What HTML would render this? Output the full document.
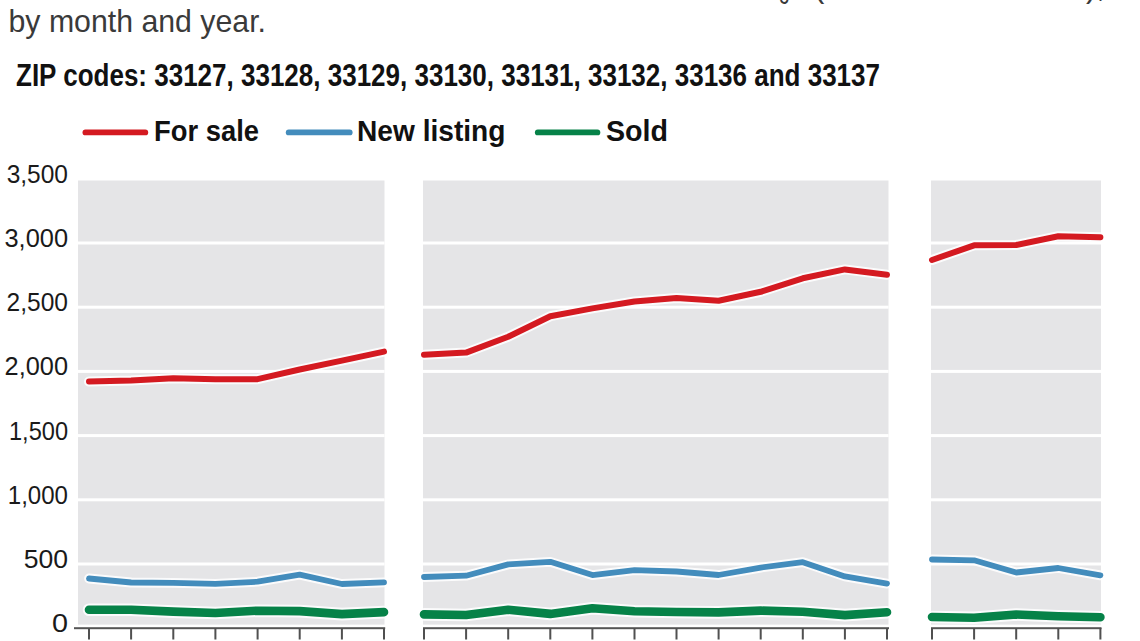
<!DOCTYPE html>
<html><head><meta charset="utf-8"><title>ZIP codes chart</title>
<style>
html,body{margin:0;padding:0;background:#fff;width:1140px;height:641px;overflow:hidden}
svg{position:absolute;left:0;top:0;display:block}
</style></head><body>
<svg width="1140" height="641" viewBox="0 0 1140 641">
<rect x="78" y="180.5" width="306.5" height="444.1" fill="#e5e5e7"/>
<rect x="78" y="241.5" width="306.5" height="3" fill="#fff"/>
<rect x="78" y="305.7" width="306.5" height="3" fill="#fff"/>
<rect x="78" y="369.9" width="306.5" height="3" fill="#fff"/>
<rect x="78" y="434.1" width="306.5" height="3" fill="#fff"/>
<rect x="78" y="498.3" width="306.5" height="3" fill="#fff"/>
<rect x="78" y="562.5" width="306.5" height="3" fill="#fff"/>
<rect x="423" y="180.5" width="465.5" height="444.1" fill="#e5e5e7"/>
<rect x="423" y="241.5" width="465.5" height="3" fill="#fff"/>
<rect x="423" y="305.7" width="465.5" height="3" fill="#fff"/>
<rect x="423" y="369.9" width="465.5" height="3" fill="#fff"/>
<rect x="423" y="434.1" width="465.5" height="3" fill="#fff"/>
<rect x="423" y="498.3" width="465.5" height="3" fill="#fff"/>
<rect x="423" y="562.5" width="465.5" height="3" fill="#fff"/>
<rect x="931" y="180.5" width="170.0" height="444.1" fill="#e5e5e7"/>
<rect x="931" y="241.5" width="170.0" height="3" fill="#fff"/>
<rect x="931" y="305.7" width="170.0" height="3" fill="#fff"/>
<rect x="931" y="369.9" width="170.0" height="3" fill="#fff"/>
<rect x="931" y="434.1" width="170.0" height="3" fill="#fff"/>
<rect x="931" y="498.3" width="170.0" height="3" fill="#fff"/>
<rect x="931" y="562.5" width="170.0" height="3" fill="#fff"/>
<rect x="74" y="627.2" width="311.2" height="2" fill="#555555"/>
<rect x="423" y="627.2" width="466.0" height="2" fill="#555555"/>
<rect x="931" y="627.2" width="170.5" height="2" fill="#555555"/>
<rect x="88.0" y="628" width="2" height="11.5" fill="#505050"/>
<rect x="130.1" y="628" width="2" height="11.5" fill="#505050"/>
<rect x="172.3" y="628" width="2" height="11.5" fill="#505050"/>
<rect x="214.4" y="628" width="2" height="11.5" fill="#505050"/>
<rect x="256.6" y="628" width="2" height="11.5" fill="#505050"/>
<rect x="298.7" y="628" width="2" height="11.5" fill="#505050"/>
<rect x="340.9" y="628" width="2" height="11.5" fill="#505050"/>
<rect x="383.0" y="628" width="2" height="11.5" fill="#505050"/>
<rect x="423.0" y="628" width="2" height="11.5" fill="#505050"/>
<rect x="465.1" y="628" width="2" height="11.5" fill="#505050"/>
<rect x="507.2" y="628" width="2" height="11.5" fill="#505050"/>
<rect x="549.3" y="628" width="2" height="11.5" fill="#505050"/>
<rect x="591.4" y="628" width="2" height="11.5" fill="#505050"/>
<rect x="633.5" y="628" width="2" height="11.5" fill="#505050"/>
<rect x="675.5" y="628" width="2" height="11.5" fill="#505050"/>
<rect x="717.6" y="628" width="2" height="11.5" fill="#505050"/>
<rect x="759.7" y="628" width="2" height="11.5" fill="#505050"/>
<rect x="801.8" y="628" width="2" height="11.5" fill="#505050"/>
<rect x="843.9" y="628" width="2" height="11.5" fill="#505050"/>
<rect x="886.0" y="628" width="2" height="11.5" fill="#505050"/>
<rect x="931.0" y="628" width="2" height="11.5" fill="#505050"/>
<rect x="973.1" y="628" width="2" height="11.5" fill="#505050"/>
<rect x="1015.2" y="628" width="2" height="11.5" fill="#505050"/>
<rect x="1057.3" y="628" width="2" height="11.5" fill="#505050"/>
<rect x="1099.4" y="628" width="2" height="11.5" fill="#505050"/>
<polyline points="89.0,609.7 131.1,609.7 173.3,611.6 215.4,613.0 257.6,610.7 299.7,611.1 341.9,614.1 384.0,612.1" fill="none" stroke="#fff" stroke-opacity="0.85" stroke-width="12.6" stroke-linecap="round" stroke-linejoin="round"/>
<polyline points="89.0,609.7 131.1,609.7 173.3,611.6 215.4,613.0 257.6,610.7 299.7,611.1 341.9,614.1 384.0,612.1" fill="none" stroke="#068248" stroke-width="8.6" stroke-linecap="round" stroke-linejoin="round"/>
<polyline points="89.0,578.5 131.1,582.5 173.3,582.9 215.4,583.9 257.6,581.7 299.7,574.7 341.9,584.0 384.0,582.3" fill="none" stroke="#fff" stroke-opacity="0.85" stroke-width="9.8" stroke-linecap="round" stroke-linejoin="round"/>
<polyline points="89.0,578.5 131.1,582.5 173.3,582.9 215.4,583.9 257.6,581.7 299.7,574.7 341.9,584.0 384.0,582.3" fill="none" stroke="#438cbc" stroke-width="5.8" stroke-linecap="round" stroke-linejoin="round"/>
<polyline points="89.0,381.5 131.1,380.4 173.3,378.2 215.4,379.2 257.6,379.2 299.7,369.5 341.9,360.6 384.0,351.6" fill="none" stroke="#fff" stroke-opacity="0.85" stroke-width="10.0" stroke-linecap="round" stroke-linejoin="round"/>
<polyline points="89.0,381.5 131.1,380.4 173.3,378.2 215.4,379.2 257.6,379.2 299.7,369.5 341.9,360.6 384.0,351.6" fill="none" stroke="#d41a21" stroke-width="6.0" stroke-linecap="round" stroke-linejoin="round"/>
<polyline points="424.0,614.4 466.1,615.0 508.2,609.7 550.3,613.9 592.4,608.3 634.5,611.2 676.5,612.0 718.6,612.4 760.7,610.6 802.8,611.7 844.9,615.1 887.0,612.2" fill="none" stroke="#fff" stroke-opacity="0.85" stroke-width="12.6" stroke-linecap="round" stroke-linejoin="round"/>
<polyline points="424.0,614.4 466.1,615.0 508.2,609.7 550.3,613.9 592.4,608.3 634.5,611.2 676.5,612.0 718.6,612.4 760.7,610.6 802.8,611.7 844.9,615.1 887.0,612.2" fill="none" stroke="#068248" stroke-width="8.6" stroke-linecap="round" stroke-linejoin="round"/>
<polyline points="424.0,577.0 466.1,575.7 508.2,564.4 550.3,561.8 592.4,575.1 634.5,570.2 676.5,571.5 718.6,575.0 760.7,567.6 802.8,562.2 844.9,576.4 887.0,583.6" fill="none" stroke="#fff" stroke-opacity="0.85" stroke-width="9.8" stroke-linecap="round" stroke-linejoin="round"/>
<polyline points="424.0,577.0 466.1,575.7 508.2,564.4 550.3,561.8 592.4,575.1 634.5,570.2 676.5,571.5 718.6,575.0 760.7,567.6 802.8,562.2 844.9,576.4 887.0,583.6" fill="none" stroke="#438cbc" stroke-width="5.8" stroke-linecap="round" stroke-linejoin="round"/>
<polyline points="424.0,354.7 466.1,352.6 508.2,336.8 550.3,316.2 592.4,308.4 634.5,301.5 676.5,297.9 718.6,300.8 760.7,291.8 802.8,278.3 844.9,269.4 887.0,274.8" fill="none" stroke="#fff" stroke-opacity="0.85" stroke-width="10.0" stroke-linecap="round" stroke-linejoin="round"/>
<polyline points="424.0,354.7 466.1,352.6 508.2,336.8 550.3,316.2 592.4,308.4 634.5,301.5 676.5,297.9 718.6,300.8 760.7,291.8 802.8,278.3 844.9,269.4 887.0,274.8" fill="none" stroke="#d41a21" stroke-width="6.0" stroke-linecap="round" stroke-linejoin="round"/>
<polyline points="932.0,617.0 974.1,617.8 1016.2,614.5 1058.3,616.2 1100.4,617.2" fill="none" stroke="#fff" stroke-opacity="0.85" stroke-width="12.6" stroke-linecap="round" stroke-linejoin="round"/>
<polyline points="932.0,617.0 974.1,617.8 1016.2,614.5 1058.3,616.2 1100.4,617.2" fill="none" stroke="#068248" stroke-width="8.6" stroke-linecap="round" stroke-linejoin="round"/>
<polyline points="932.0,559.5 974.1,560.3 1016.2,572.5 1058.3,568.0 1100.4,575.3" fill="none" stroke="#fff" stroke-opacity="0.85" stroke-width="9.8" stroke-linecap="round" stroke-linejoin="round"/>
<polyline points="932.0,559.5 974.1,560.3 1016.2,572.5 1058.3,568.0 1100.4,575.3" fill="none" stroke="#438cbc" stroke-width="5.8" stroke-linecap="round" stroke-linejoin="round"/>
<polyline points="932.0,260.0 974.1,245.3 1016.2,245.0 1058.3,236.2 1100.4,237.2" fill="none" stroke="#fff" stroke-opacity="0.85" stroke-width="10.0" stroke-linecap="round" stroke-linejoin="round"/>
<polyline points="932.0,260.0 974.1,245.3 1016.2,245.0 1058.3,236.2 1100.4,237.2" fill="none" stroke="#d41a21" stroke-width="6.0" stroke-linecap="round" stroke-linejoin="round"/>
<line x1="85.4" y1="132.4" x2="145.3" y2="132.4" stroke="#d41a21" stroke-width="5.8" stroke-linecap="round"/>
<line x1="288.7" y1="132.4" x2="349.7" y2="132.4" stroke="#438cbc" stroke-width="5.8" stroke-linecap="round"/>
<line x1="537.8" y1="132.4" x2="597.4" y2="132.4" stroke="#068248" stroke-width="5.8" stroke-linecap="round"/>
<text x="12" y="-3" style="font-family:'Liberation Sans', Arial, sans-serif;font-size:31px;fill:#3a3a3a" textLength="778" lengthAdjust="spacingAndGlyphs">Total number of residential homes on the market and new homes listed and sold during</text>
<text x="814" y="-3" style="font-family:'Liberation Sans', Arial, sans-serif;font-size:31px;fill:#3a3a3a" textLength="291" lengthAdjust="spacingAndGlyphs">(condos and homes),</text>
<text x="8.5" y="32" style="font-family:'Liberation Sans', Arial, sans-serif;font-size:32px;fill:#3a3a3a" textLength="257.5" lengthAdjust="spacingAndGlyphs">by month and year.</text>
<text x="16" y="86" style="font-family:'Liberation Sans', Arial, sans-serif;font-size:31px;font-weight:bold;fill:#111" textLength="864" lengthAdjust="spacingAndGlyphs">ZIP codes: 33127, 33128, 33129, 33130, 33131, 33132, 33136 and 33137</text>
<text x="154" y="140.5" style="font-family:'Liberation Sans', Arial, sans-serif;font-size:30px;font-weight:bold;fill:#111" textLength="105" lengthAdjust="spacingAndGlyphs">For sale</text>
<text x="357" y="140.5" style="font-family:'Liberation Sans', Arial, sans-serif;font-size:30px;font-weight:bold;fill:#111" textLength="148.5" lengthAdjust="spacingAndGlyphs">New listing</text>
<text x="606" y="140.5" style="font-family:'Liberation Sans', Arial, sans-serif;font-size:30px;font-weight:bold;fill:#111" textLength="62" lengthAdjust="spacingAndGlyphs">Sold</text>
<text x="68" y="182.7" text-anchor="end" style="font-family:'Liberation Sans', Arial, sans-serif;font-size:25.2px;fill:#1a1a1a" textLength="61.3" lengthAdjust="spacingAndGlyphs">3,500</text>
<text x="68" y="246.9" text-anchor="end" style="font-family:'Liberation Sans', Arial, sans-serif;font-size:25.2px;fill:#1a1a1a" textLength="63.5" lengthAdjust="spacingAndGlyphs">3,000</text>
<text x="68" y="311.1" text-anchor="end" style="font-family:'Liberation Sans', Arial, sans-serif;font-size:25.2px;fill:#1a1a1a" textLength="61.4" lengthAdjust="spacingAndGlyphs">2,500</text>
<text x="68" y="375.3" text-anchor="end" style="font-family:'Liberation Sans', Arial, sans-serif;font-size:25.2px;fill:#1a1a1a" textLength="63.4" lengthAdjust="spacingAndGlyphs">2,000</text>
<text x="68" y="439.5" text-anchor="end" style="font-family:'Liberation Sans', Arial, sans-serif;font-size:25.2px;fill:#1a1a1a" textLength="59.0" lengthAdjust="spacingAndGlyphs">1,500</text>
<text x="68" y="503.7" text-anchor="end" style="font-family:'Liberation Sans', Arial, sans-serif;font-size:25.2px;fill:#1a1a1a" textLength="60.2" lengthAdjust="spacingAndGlyphs">1,000</text>
<text x="68" y="567.9" text-anchor="end" style="font-family:'Liberation Sans', Arial, sans-serif;font-size:25.2px;fill:#1a1a1a" textLength="44.3" lengthAdjust="spacingAndGlyphs">500</text>
<text x="68" y="632.1" text-anchor="end" style="font-family:'Liberation Sans', Arial, sans-serif;font-size:25.2px;fill:#1a1a1a" textLength="16.0" lengthAdjust="spacingAndGlyphs">0</text>
</svg>
</body></html>
